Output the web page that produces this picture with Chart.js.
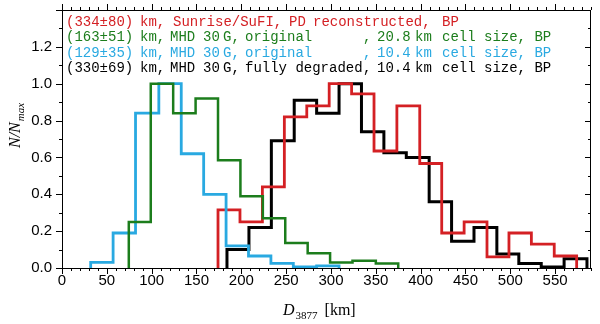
<!DOCTYPE html>
<html>
<head>
<meta charset="utf-8">
<script src="https://cdn.jsdelivr.net/npm/chart.js@4.4.0/dist/chart.umd.min.js"></script>
<style>
  html, body { margin: 0; padding: 0; background: #fff; }
</style>
</head>
<body>
<canvas id="histChart" width="600" height="324"></canvas>
<script>
// bin edges in km, and normalised counts N/Nmax per bin
const sufiEdges = [174, 198.5, 223.5, 248, 273, 298, 323, 348, 373.5, 399, 423.5, 448.5, 474, 498.5, 523.5, 549, 574];
const sufiCounts = [0.315, 0.25, 0.44, 0.82, 0.88, 1.0, 0.945, 0.635, 0.88, 0.567, 0.19, 0.25, 0.06, 0.19, 0.13, 0.065];

const mhd208Edges = [74.5, 99, 124, 149, 174, 199, 224, 249, 274, 299, 324, 350, 375];
const mhd208Counts = [0.25, 1.0, 0.84, 0.92, 0.585, 0.39, 0.27, 0.135, 0.08, 0.03, 0.04, 0.025];

const mhd104Edges = [32, 57, 82, 108, 133, 158, 183, 208, 233, 258, 284, 309];
const mhd104Counts = [0.03, 0.19, 0.84, 1.0, 0.62, 0.40, 0.12, 0.065, 0.025, 0.006, 0.011];

const degradedEdges = [184, 208.5, 233.5, 259, 284, 309, 334, 359, 384, 409.5, 434.5, 459.5, 485, 509.5, 534.5, 560, 585.5];
const degradedCounts = [0.1, 0.22, 0.69, 0.91, 0.84, 1.0, 0.74, 0.625, 0.6, 0.36, 0.145, 0.22, 0.076, 0.025, 0.005, 0.05];

// legend text, split in words so the columns line up like the original
const legendFirst = ['(334\u00b180)', 'km,', 'Sunrise/SuFI,', 'PD', 'reconstructed,', 'BP'];
const legendRest = [
    ['(163\u00b151)', 'km,', 'MHD', '30', 'G,', 'original', ',', '20.8', 'km', 'cell size, BP'],
    ['(129\u00b135)', 'km,', 'MHD', '30', 'G,', 'original', ',', '10.4', 'km', 'cell size, BP'],
    ['(330\u00b169)', 'km,', 'MHD', '30', 'G,', 'fully degraded', ',', '10.4', 'km', 'cell size, BP']
];
const legendColors = ['#d42024', '#1c7d1c', '#29a9e1', '#000000'];

// histogram outline: up at the first edge, steps, down at the last edge
function histPoints(edges, counts) {
    let pts = [{ x: edges[0], y: 0 }];
    for (let i = 0; i < counts.length; i++) {
        pts.push({ x: edges[i], y: counts[i] });
    }
    pts.push({ x: edges[edges.length - 1], y: 0 });
    return pts;
}

function histSet(label, edges, counts, color, width) {
    return {
        label: label,
        data: histPoints(edges, counts),
        borderColor: color,
        borderWidth: width,
        stepped: 'before',
        pointRadius: 0,
        fill: false,
        clip: false
    };
}

// frame, tick marks, legend text and axis titles
const decorations = {
    id: 'decorations',
    afterDraw(chart) {
        const ctx = chart.ctx;
        const area = chart.chartArea;
        const xs = chart.scales.x;
        const ys = chart.scales.y;
        ctx.save();
        ctx.strokeStyle = '#000';
        ctx.lineWidth = 1;
        ctx.strokeRect(area.left + 0.5, area.top + 0.5, area.right - area.left - 1, area.bottom - area.top);

        ctx.beginPath();
        for (let v = 0; v <= 590; v += 10) {
            let px = Math.round(xs.getPixelForValue(v)) + 0.5;
            let len = (v % 50 === 0) ? 6 : 3;
            ctx.moveTo(px, area.bottom);
            ctx.lineTo(px, area.bottom + len);
            ctx.moveTo(px, area.top);
            ctx.lineTo(px, area.top - len);
        }
        for (let i = 0; i <= 14; i++) {
            let py = Math.round(ys.getPixelForValue(i / 10)) + 0.5;
            let len = (i % 2 === 0) ? 6 : 3;
            ctx.moveTo(area.left, py);
            ctx.lineTo(area.left - len, py);
            ctx.moveTo(area.right, py);
            ctx.lineTo(area.right - len, py);
        }
        ctx.stroke();

        // legend
        ctx.font = '14px "Liberation Mono"';
        ctx.textBaseline = 'middle';
        const firstCols = [66, 140, 173, 289, 313, 442];
        const restCols = [66, 140, 170, 203, 223, 245, 363, 377, 415, 442];
        ctx.fillStyle = legendColors[0];
        legendFirst.forEach(function (txt, j) {
            ctx.fillText(txt, firstCols[j], 22);
        });
        legendRest.forEach(function (parts, i) {
            ctx.fillStyle = legendColors[i + 1];
            parts.forEach(function (txt, j) {
                ctx.fillText(txt, restCols[j], 37.5 + i * 15.5);
            });
        });

        // x title: D_3877 [km]
        ctx.fillStyle = '#000';
        ctx.textBaseline = 'alphabetic';
        ctx.font = 'italic 16px "Liberation Serif"';
        ctx.fillText('D', 283, 315);
        let x = 283 + ctx.measureText('D').width + 1;
        ctx.font = '11px "Liberation Serif"';
        ctx.fillText('3877', x, 319);
        x += ctx.measureText('3877').width + 7;
        ctx.font = '16px "Liberation Serif"';
        ctx.fillText('[km]', x, 315);

        // y title: N/N_max
        ctx.translate(20, 148);
        ctx.rotate(-Math.PI / 2);
        ctx.font = 'italic 16px "Liberation Serif"';
        ctx.fillText('N/N', 0, 0);
        let w = ctx.measureText('N/N').width;
        ctx.font = 'italic 11px "Liberation Serif"';
        ctx.fillText('max', w + 1, 4);
        ctx.restore();
    }
};

const ctx = document.getElementById('histChart').getContext('2d');
const chart = new Chart(ctx, {
    type: 'line',
    data: {
        datasets: [
            histSet('MHD 20.8 km', mhd208Edges, mhd208Counts, legendColors[1], 2.5),
            histSet('MHD 10.4 km', mhd104Edges, mhd104Counts, legendColors[2], 2.8),
            histSet('SuFI', sufiEdges, sufiCounts, legendColors[0], 2.8),
            histSet('MHD degraded', degradedEdges, degradedCounts, legendColors[3], 3)
        ]
    },
    options: {
        responsive: false,
        animation: false,
        devicePixelRatio: 1,
        layout: { padding: { top: 10, right: 9, left: 0, bottom: 0 } },
        plugins: {
            legend: { display: false },
            tooltip: { enabled: false }
        },
        scales: {
            x: {
                type: 'linear',
                min: 0,
                max: 590,
                grid: { display: false, drawTicks: false },
                border: { display: false },
                ticks: {
                    stepSize: 50,
                    includeBounds: false,
                    maxRotation: 0,
                    autoSkip: false,
                    padding: 4,
                    color: '#000',
                    font: { family: 'Liberation Sans', size: 15 }
                },
                afterFit: function (scale) {
                    scale.height = 56;
                    scale.paddingLeft = 0;
                    scale.paddingRight = 0;
                }
            },
            y: {
                min: 0,
                max: 1.4,
                grid: { display: false, drawTicks: false },
                border: { display: false },
                ticks: {
                    stepSize: 0.2,
                    includeBounds: false,
                    padding: 10,
                    color: '#000',
                    font: { family: 'Liberation Sans', size: 15 },
                    callback: function (v) { return v > 1.3 ? '' : v.toFixed(1); }
                },
                afterFit: function (scale) {
                    scale.width = 62;
                    scale.paddingTop = 0;
                    scale.paddingBottom = 0;
                }
            }
        }
    },
    plugins: [decorations]
});
</script>
</body>
</html>
